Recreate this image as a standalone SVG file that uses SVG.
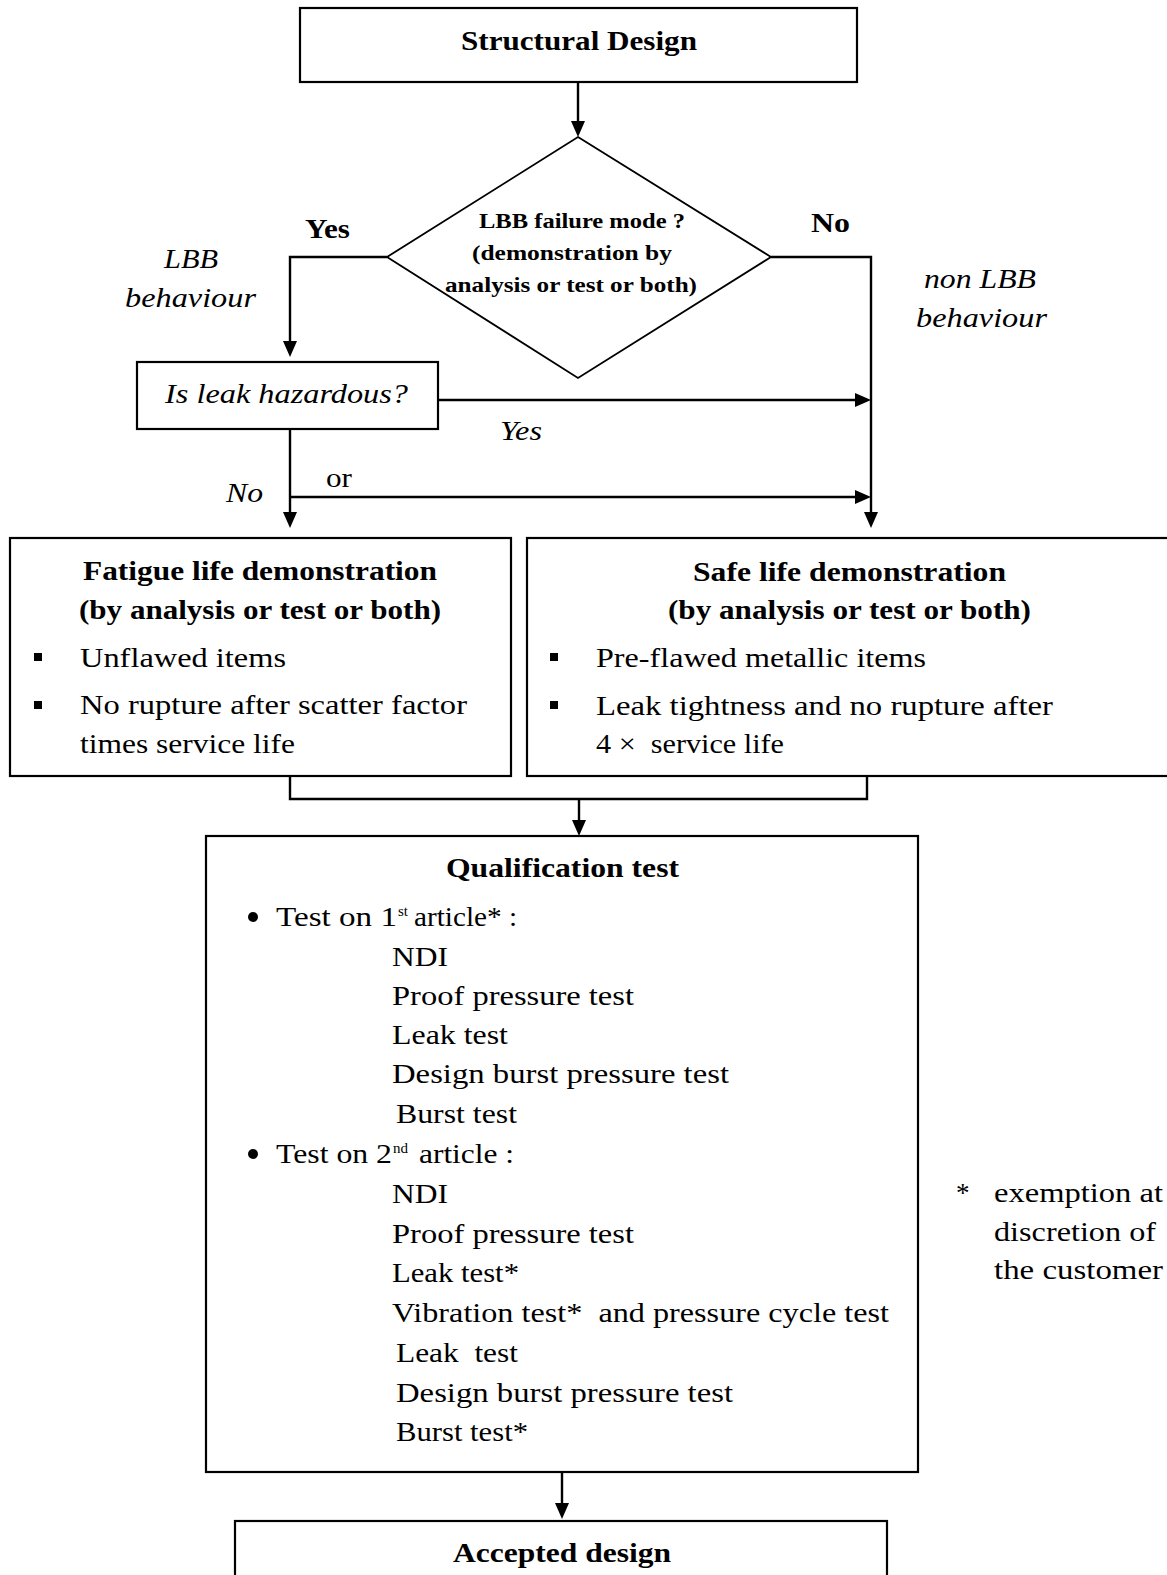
<svg xmlns="http://www.w3.org/2000/svg" width="1167" height="1575" viewBox="0 0 1167 1575">
  <style>
    .box { fill: #ffffff; stroke: #000000; stroke-width: 2.2; }
    .dia { fill: #ffffff; stroke: #000000; stroke-width: 1.8; }
    .wire { fill: none; stroke: #000000; stroke-width: 2.4; }
    text { font-family: "Liberation Serif", "Times New Roman", serif; fill: #000000; }
    .r { font-size: 27px; }
    .b { font-size: 27px; font-weight: bold; }
    .bs { font-size: 21px; font-weight: bold; }
    .i { font-size: 27px; font-style: italic; }
    .sup { font-size: 15px; }
  </style>
  <defs>
    <marker id="arrow" viewBox="0 0 16 14" refX="4" refY="7" markerWidth="16" markerHeight="14" markerUnits="userSpaceOnUse" orient="auto">
      <path d="M0,0 L16,7 L0,14 Z" fill="#000000"/>
    </marker>
  </defs>
  <rect width="1167" height="1575" fill="#ffffff"/>

  <!-- connectors -->
  <g id="connectors">
    <path class="wire" d="M578,82 V125" marker-end="url(#arrow)"/>
    <path class="wire" d="M387,257 H290 V345" marker-end="url(#arrow)"/>
    <path class="wire" d="M771,257 H871 V516" marker-end="url(#arrow)"/>
    <path class="wire" d="M438,400 H859" marker-end="url(#arrow)"/>
    <path class="wire" d="M290,429 V516" marker-end="url(#arrow)"/>
    <path class="wire" d="M290,497 H859" marker-end="url(#arrow)"/>
    <path class="wire" d="M290,776 V799 H867 V776"/>
    <path class="wire" d="M579,799 V824" marker-end="url(#arrow)"/>
    <path class="wire" d="M562,1472 V1507" marker-end="url(#arrow)"/>
  </g>

  <!-- branch labels -->
  <g id="labels">
    <text class="b" x="305" y="238" font-size="26" textLength="45" lengthAdjust="spacingAndGlyphs">Yes</text>
    <text class="b" x="811" y="232" font-size="26" textLength="39" lengthAdjust="spacingAndGlyphs">No</text>
    <text class="i" x="164" y="268" textLength="54" lengthAdjust="spacingAndGlyphs">LBB</text>
    <text class="i" x="125" y="307" textLength="131" lengthAdjust="spacingAndGlyphs">behaviour</text>
    <text class="i" x="924" y="288" textLength="112" lengthAdjust="spacingAndGlyphs">non LBB</text>
    <text class="i" x="916" y="327" textLength="131" lengthAdjust="spacingAndGlyphs">behaviour</text>
    <text class="i" x="500" y="440" textLength="42" lengthAdjust="spacingAndGlyphs">Yes</text>
    <text class="i" x="226" y="502" textLength="37" lengthAdjust="spacingAndGlyphs">No</text>
    <text class="r" x="326" y="487" textLength="26" lengthAdjust="spacingAndGlyphs">or</text>
  </g>

  <g id="structural-design">
    <rect class="box" x="300" y="8" width="557" height="74"/>
    <text class="b" x="461" y="50" font-size="26" textLength="236" lengthAdjust="spacingAndGlyphs">Structural Design</text>
  </g>

  <g id="lbb-decision">
    <polygon class="dia" points="578,137 771,257 578,378 387,257"/>
    <text class="bs" x="479" y="228" textLength="206" lengthAdjust="spacingAndGlyphs">LBB failure mode ?</text>
    <text class="bs" x="472" y="260" textLength="200" lengthAdjust="spacingAndGlyphs">(demonstration by</text>
    <text class="bs" x="445" y="292" textLength="252" lengthAdjust="spacingAndGlyphs">analysis or test or both)</text>
  </g>

  <g id="leak-hazard">
    <rect class="box" x="137" y="362" width="301" height="67"/>
    <text class="i" x="165" y="403" textLength="243" lengthAdjust="spacingAndGlyphs">Is leak hazardous?</text>
  </g>

  <g id="fatigue-life">
    <rect class="box" x="10" y="538" width="501" height="238"/>
    <text class="b" x="83" y="580" textLength="354" lengthAdjust="spacingAndGlyphs">Fatigue life demonstration</text>
    <text class="b" x="79" y="619" textLength="362" lengthAdjust="spacingAndGlyphs">(by analysis or test or both)</text>
    <rect x="34" y="653" width="8" height="8"/>
    <text class="r" x="80" y="667" textLength="206" lengthAdjust="spacingAndGlyphs">Unflawed items</text>
    <rect x="34" y="701" width="8" height="8"/>
    <text class="r" x="80" y="714" textLength="387" lengthAdjust="spacingAndGlyphs">No rupture after scatter factor</text>
    <text class="r" x="80" y="753" textLength="215" lengthAdjust="spacingAndGlyphs">times service life</text>
  </g>

  <g id="safe-life">
    <rect class="box" x="527" y="538" width="660" height="238"/>
    <text class="b" x="693" y="581" textLength="313" lengthAdjust="spacingAndGlyphs">Safe life demonstration</text>
    <text class="b" x="668" y="619" textLength="363" lengthAdjust="spacingAndGlyphs">(by analysis or test or both)</text>
    <rect x="550" y="653" width="8" height="8"/>
    <text class="r" x="596" y="667" textLength="330" lengthAdjust="spacingAndGlyphs">Pre-flawed metallic items</text>
    <rect x="550" y="701" width="8" height="8"/>
    <text class="r" x="596" y="715" textLength="457" lengthAdjust="spacingAndGlyphs">Leak tightness and no rupture after</text>
    <text class="r" x="596" y="753" textLength="188" lengthAdjust="spacingAndGlyphs" xml:space="preserve">4 ×  service life</text>
  </g>

  <g id="qualification-test">
    <rect class="box" x="206" y="836" width="712" height="636"/>
    <text class="b" x="446" y="877" textLength="233" lengthAdjust="spacingAndGlyphs">Qualification test</text>

    <circle cx="253" cy="917" r="5"/>
    <text class="r" x="276" y="926" textLength="121" lengthAdjust="spacingAndGlyphs">Test on 1</text>
    <text class="sup" x="398" y="916">st</text>
    <text class="r" x="414" y="926" textLength="103" lengthAdjust="spacingAndGlyphs">article* :</text>
    <text class="r" x="392" y="966" textLength="56" lengthAdjust="spacingAndGlyphs">NDI</text>
    <text class="r" x="392" y="1005" textLength="242" lengthAdjust="spacingAndGlyphs">Proof pressure test</text>
    <text class="r" x="392" y="1044" textLength="116" lengthAdjust="spacingAndGlyphs">Leak test</text>
    <text class="r" x="392" y="1083" textLength="337" lengthAdjust="spacingAndGlyphs">Design burst pressure test</text>
    <text class="r" x="396" y="1123" textLength="121" lengthAdjust="spacingAndGlyphs">Burst test</text>

    <circle cx="253" cy="1154" r="5"/>
    <text class="r" x="276" y="1163" textLength="116" lengthAdjust="spacingAndGlyphs">Test on 2</text>
    <text class="sup" x="393" y="1153">nd</text>
    <text class="r" x="419" y="1163" textLength="95" lengthAdjust="spacingAndGlyphs">article :</text>
    <text class="r" x="392" y="1203" textLength="56" lengthAdjust="spacingAndGlyphs">NDI</text>
    <text class="r" x="392" y="1243" textLength="242" lengthAdjust="spacingAndGlyphs">Proof pressure test</text>
    <text class="r" x="392" y="1282" textLength="127" lengthAdjust="spacingAndGlyphs">Leak test*</text>
    <text class="r" x="392" y="1322" textLength="497" lengthAdjust="spacingAndGlyphs" xml:space="preserve">Vibration test*  and pressure cycle test</text>
    <text class="r" x="396" y="1362" textLength="122" lengthAdjust="spacingAndGlyphs" xml:space="preserve">Leak  test</text>
    <text class="r" x="396" y="1402" textLength="337" lengthAdjust="spacingAndGlyphs">Design burst pressure test</text>
    <text class="r" x="396" y="1441" textLength="132" lengthAdjust="spacingAndGlyphs">Burst test*</text>
  </g>

  <g id="footnote">
    <text class="r" x="956" y="1202">*</text>
    <text class="r" x="994" y="1202" textLength="169" lengthAdjust="spacingAndGlyphs">exemption at</text>
    <text class="r" x="994" y="1241" textLength="162" lengthAdjust="spacingAndGlyphs">discretion of</text>
    <text class="r" x="994" y="1279" textLength="169" lengthAdjust="spacingAndGlyphs">the customer</text>
  </g>

  <g id="accepted-design">
    <rect class="box" x="235" y="1521" width="652" height="80"/>
    <text class="b" x="453" y="1562" textLength="218" lengthAdjust="spacingAndGlyphs">Accepted design</text>
  </g>
</svg>
